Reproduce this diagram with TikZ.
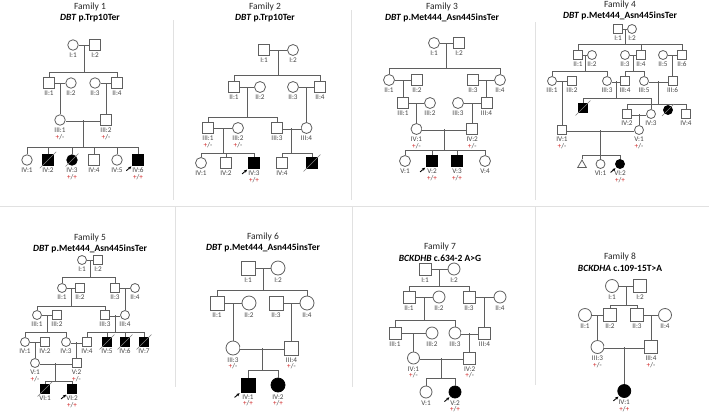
\documentclass[tikz,border=0pt]{standalone}
\usepackage{fontspec}
\setmainfont{Carlito}
\usetikzlibrary{calc,arrows.meta,shapes.geometric}
\definecolor{lc}{RGB}{95,95,95}
\definecolor{lt}{RGB}{70,70,70}
\definecolor{gr}{RGB}{210,40,40}
\definecolor{sepc}{RGB}{225,225,225}
\newcommand\gHet{\textcolor{gr}{+}/-}
\newcommand\gHom{\textcolor{gr}{+}/\textcolor{gr}{+}}
\newcommand\symsz{10pt}
\tikzset{
 ln/.style={draw=lc, line width=0.8pt},
 dbl/.style={draw=lc, line width=0.75pt, double=white, double distance=1.5pt},
 male/.style={rectangle, draw=lc, fill=white, line width=0.8pt, minimum size=\symsz, inner sep=0pt},
 fem/.style={circle, draw=lc, fill=white, line width=0.8pt, minimum size=\symsz, inner sep=0pt},
 aff/.style={fill=black, draw=black},
 lab/.style={font=\fontsize{7.2}{6.8}\selectfont, text=lt, inner sep=0.3pt, align=center},
 ttl/.style={font=\fontsize{9.5}{10}\selectfont, text=black!85},
 subt/.style={font=\bfseries\fontsize{9.5}{10}\selectfont},
 sepl/.style={draw=sepc, line width=0.7pt},
}
\newcommand\ind[4]{\node[#1, label={[lab, label distance=1.6pt]below:{#4}}] (#2) at (#3) {};}
\newcommand\mcoord[3]{\coordinate (#1) at ($(#2)!.5!(#3)$);}
\newcommand\sibs[4]{\coordinate (sy) at (0,#2); \draw[ln] (#1) -- (#1 |- sy); \draw[ln] (#3.north) -- (#3.north |- sy) -- (#4.north |- sy) -- (#4.north);}
\newcommand\kid[2]{\coordinate (sy) at (0,#2); \draw[ln] (#1.north) -- (#1.north |- sy);}
\newcommand\onechild[2]{\draw[ln] (#1) -- (#1 |- #2.north);}
\newcommand\deceased[1]{\draw[draw=gray, line width=0.6pt] ([shift={(-2.5pt,-2.5pt)}]#1.south west) -- ([shift={(2.5pt,2.5pt)}]#1.north east);}
\newcommand\proband[1]{\draw[-{Stealth[length=3.2pt,width=3pt]}, line width=0.9pt, black] ([shift={(-6pt,-5pt)}]#1.south west) -- ([shift={(-1pt,-0.8pt)}]#1.south west);}
\begin{document}
\begin{tikzpicture}[x=1pt,y=-1pt]
\fill[white] (0,0) rectangle (709,416);
\useasboundingbox (0,0) rectangle (709,416);
% separators
\draw[sepl] (0,206) -- (709,206);
\draw[sepl] (173,20) -- (173,200);
\draw[sepl] (351,10) -- (351,200);
\draw[sepl] (535,22) -- (535,200);
\draw[sepl] (175,206) -- (175,387);
\draw[sepl] (352,206) -- (352,387);
\draw[sepl] (535,206) -- (535,385);

% ---------------- Family 1
\def\symsz{10.5pt}
\node[ttl] (t1) at (90,7) {Family 1};
\node[subt] (s1) at (90,18) {\textit{DBT} p.Trp10Ter};
\ind{fem}{a11}{73,45}{I:1}
\ind{male}{a12}{95,45}{I:2}
\draw[ln] (a11) -- (a12);
\mcoord{a1m}{a11}{a12}
\ind{male}{a21}{49,83}{II:1}
\ind{fem}{a22}{71,83}{II:2}
\ind{fem}{a23}{95,83}{II:3}
\ind{male}{a24}{117,83}{II:4}
\sibs{a1m}{72}{a21}{a24}
\draw[ln] (a21) -- (a22); \draw[ln] (a23) -- (a24);
\mcoord{a2m1}{a21}{a22}\mcoord{a2m2}{a23}{a24}
\ind{fem}{a31}{60,120}{III:1\\\gHet}
\ind{male}{a32}{106,120}{III:2\\\gHet}
\onechild{a2m1}{a31}\onechild{a2m2}{a32}
\draw[dbl] (a31) -- (a32);
\mcoord{a3m}{a31}{a32}
\ind{fem}{a41}{27,160}{IV:1}
\ind{male,aff}{a42}{48,160}{IV:2}
\ind{fem,aff}{a43}{72,160}{IV:3\\\gHom}
\ind{male}{a44}{94,160}{IV:4}
\ind{fem}{a45}{117,160}{IV:5}
\ind{male,aff}{a46}{138,160}{IV:6\\\gHom}
\sibs{a3m}{147}{a41}{a46}
\kid{a42}{147}\kid{a43}{147}\kid{a44}{147}\kid{a45}{147}
\deceased{a42}\deceased{a43}\proband{a46}

% ---------------- Family 2
\def\symsz{11pt}
\node[ttl] (t2) at (265,7) {Family 2};
\node[subt] (s2) at (265,18) {\textit{DBT} p.Trp10Ter};
\ind{male}{b11}{264,50}{I:1}
\ind{fem}{b12}{293,50}{I:2}
\draw[ln] (b11) -- (b12);
\mcoord{b1m}{b11}{b12}
\ind{male}{b21}{234,87}{II:1}
\ind{fem}{b22}{260,87}{II:2}
\ind{fem}{b23}{293,87}{II:3}
\ind{male}{b24}{320,87}{II:4}
\sibs{b1m}{75}{b21}{b24}
\draw[ln] (b21) -- (b22); \draw[ln] (b23) -- (b24);
\mcoord{b2m1}{b21}{b22}\mcoord{b2m2}{b23}{b24}
\ind{male}{b31}{208,128}{III:1\\\gHet}
\ind{fem}{b32}{238,128}{III:2\\\gHet}
\ind{male}{b33}{277,128}{III:3}
\ind{fem}{b34}{306.5,128}{III:4}
\sibs{b2m1}{117}{b31}{b33}
\onechild{b2m2}{b34}
\draw[ln] (b31) -- (b32); \draw[dbl] (b33) -- (b34);
\mcoord{b3m1}{b31}{b32}\mcoord{b3m2}{b33}{b34}
\ind{fem}{b41}{201,163}{IV:1}
\ind{male}{b42}{226,163}{IV:2}
\ind{male,aff}{b43}{254,163}{IV:3\\\gHom}
\ind{male}{b44}{282,163}{IV:4}
\node[male,aff] (b45) at (312,163) {};
\sibs{b3m1}{153}{b41}{b43}\kid{b42}{153}
\sibs{b3m2}{153}{b44}{b45}
\deceased{b45}\proband{b43}

% ---------------- Family 3
\def\symsz{11pt}
\node[ttl] (t3) at (442,7) {Family 3};
\node[subt] (s3) at (442,18) {\textit{DBT} p.Met444\_Asn445insTer};
\ind{fem}{c11}{434,43}{I:1}
\ind{male}{c12}{459,43}{I:2}
\draw[ln] (c11) -- (c12);
\mcoord{c1m}{c11}{c12}
\ind{fem}{c21}{389,80}{II:1}
\ind{male}{c22}{417,80}{II:2}
\ind{male}{c23}{473,80}{II:3}
\ind{fem}{c24}{500,80}{II:4}
\sibs{c1m}{68}{c21}{c24}
\draw[ln] (c21) -- (c22); \draw[ln] (c23) -- (c24);
\mcoord{c2m1}{c21}{c22}\mcoord{c2m2}{c23}{c24}
\ind{male}{c31}{403,103}{III:1}
\ind{fem}{c32}{430,103}{III:2}
\ind{fem}{c33}{458,103}{III:3}
\ind{male}{c34}{486.5,103}{III:4}
\onechild{c2m1}{c31}\onechild{c2m2}{c34}
\draw[ln] (c31) -- (c32); \draw[ln] (c33) -- (c34);
\mcoord{c3m1}{c31}{c32}\mcoord{c3m2}{c33}{c34}
\ind{fem}{c41}{416.5,129}{IV:1\\\gHet}
\ind{male}{c42}{472.25,129}{IV:2\\\gHet}
\onechild{c3m1}{c41}\onechild{c3m2}{c42}
\draw[dbl] (c41) -- (c42);
\mcoord{c4m}{c41}{c42}
\ind{fem}{c51}{405,161}{V:1}
\ind{male,aff}{c52}{432,161}{V:2\\\gHom}
\ind{male,aff}{c53}{457,161}{V:3\\\gHom}
\ind{fem}{c54}{485,161}{V:4}
\sibs{c4m}{150}{c51}{c54}\kid{c52}{150}\kid{c53}{150}
\proband{c52}

% ---------------- Family 4
\def\symsz{9pt}
\node[ttl] (t4) at (620,5) {Family 4};
\node[subt] (s4) at (620,15.5) {\textit{DBT} p.Met444\_Asn445insTer};
\ind{male}{d11}{618,29}{I:1}
\ind{fem}{d12}{632,29}{I:2}
\draw[ln] (d11) -- (d12);
\mcoord{d1m}{d11}{d12}
\ind{male}{d21}{578,55}{II:1}
\ind{fem}{d22}{592,55}{II:2}
\ind{fem}{d23}{625,55}{II:3}
\ind{male}{d24}{641,55}{II:4}
\ind{fem}{d25}{663,55}{II:5}
\ind{male}{d26}{682,55}{II:6}
\sibs{d1m}{44}{d21}{d26}\kid{d24}{44}
\draw[ln] (d21) -- (d22); \draw[ln] (d23) -- (d24); \draw[ln] (d25) -- (d26);
\mcoord{d2m1}{d21}{d22}\mcoord{d2m2}{d23}{d24}\mcoord{d2m3}{d25}{d26}
\ind{fem}{d31}{552,81}{III:1}
\ind{male}{d32}{572,81}{III:2}
\ind{fem}{d33}{607,81}{III:3}
\ind{male}{d34}{625,81}{III:4}
\ind{fem}{d35}{644,81}{III:5}
\ind{male}{d36}{672.5,81}{III:6}
\sibs{d2m1}{71}{d31}{d33}
\sibs{d2m2}{71}{d34}{d35}
\onechild{d2m3}{d36}
\draw[ln] (d31) -- (d32); \draw[dbl] (d33) -- (d34); \draw[dbl] (d35) -- (d36);
\mcoord{d3m1}{d31}{d32}\mcoord{d3m2}{d33}{d34}\mcoord{d3m3}{d35}{d36}
\ind{male}{d41}{562,130}{IV:1\\\gHet}
\onechild{d3m1}{d41}
\node[male,aff] (dx1) at (583,108) {};
\ind{fem}{d43}{651,114}{IV:3}
\sibs{d3m2}{98}{dx1}{d43}
\ind{male}{d42}{627,114}{IV:2}
\node[fem,aff] (dx2) at (668,110) {};
\ind{male}{d44}{686,114}{IV:4}
\sibs{d3m3}{104}{d42}{d44}\kid{dx2}{104}
\deceased{dx1}\deceased{dx2}
\draw[dbl] (d42) -- (d43);
\mcoord{d4m}{d42}{d43}
\ind{fem}{d51}{639,130}{V:1\\\gHet}
\onechild{d4m}{d51}
\draw[dbl] (d41) -- (d51);
\mcoord{d5m}{d41}{d51}
\node[regular polygon, regular polygon sides=3, draw=lc, fill=white, line width=0.8pt, minimum size=10pt, inner sep=0pt] (d6t) at (582,165) {};
\ind{fem}{d61}{600.5,164}{VI:1}
\ind{fem,aff}{d62}{620,164}{VI:2\\\gHom}
\sibs{d5m}{155}{d6t}{d62}\kid{d61}{155}
\proband{d62}

% ---------------- Family 5
\def\symsz{9pt}
\node[ttl] (t5) at (90,238) {Family 5};
\node[subt] (s5) at (90,249) {\textit{DBT} p.Met444\_Asn445insTer};
\ind{fem}{e11}{82,260}{I:1}
\ind{male}{e12}{98,260}{I:2}
\draw[ln] (e11) -- (e12);
\mcoord{e1m}{e11}{e12}
\ind{fem}{e21}{62,288}{II:1}
\ind{male}{e22}{80,288}{II:2}
\ind{male}{e23}{115,288}{II:3}
\ind{fem}{e24}{135,288}{II:4}
\sibs{e1m}{277}{e21}{e23}
\draw[ln] (e21) -- (e22); \draw[ln] (e23) -- (e24);
\mcoord{e2m1}{e21}{e22}\mcoord{e2m2}{e23}{e24}
\ind{fem}{e31}{37,315}{III:1}
\ind{male}{e32}{57,315}{III:2}
\ind{male}{e33}{105,315}{III:3}
\ind{fem}{e34}{125,315}{III:4}
\sibs{e2m1}{306}{e31}{e33}
\onechild{e2m2}{e34}
\draw[ln] (e31) -- (e32); \draw[dbl] (e33) -- (e34);
\mcoord{e3m1}{e31}{e32}\mcoord{e3m2}{e33}{e34}
\ind{fem}{e41}{25,342}{IV:1}
\ind{male}{e42}{45,342}{IV:2}
\ind{fem}{e43}{66,342}{IV:3}
\ind{male}{e44}{87,342}{IV:4}
\ind{male,aff}{e45}{107,342}{IV:5}
\ind{male,aff}{e46}{125,342}{IV:6}
\ind{male,aff}{e47}{144,342}{IV:7}
\sibs{e3m1}{332}{e41}{e43}
\sibs{e3m2}{332}{e44}{e47}\kid{e45}{332}\kid{e46}{332}
\deceased{e45}\deceased{e46}\deceased{e47}
\draw[ln] (e41) -- (e42); \draw[dbl] (e43) -- (e44);
\mcoord{e4m1}{e41}{e42}\mcoord{e4m2}{e43}{e44}
\ind{fem}{e51}{35,363}{V:1\\\gHet}
\ind{male}{e52}{76.5,363}{V:2\\\gHet}
\onechild{e4m1}{e51}\onechild{e4m2}{e52}
\draw[dbl] (e51) -- (e52);
\mcoord{e5m}{e51}{e52}
\ind{male,aff}{e61}{45,389}{VI:1}
\ind{male,aff}{e62}{72,389}{VI:2\\\gHom}
\sibs{e5m}{381}{e61}{e62}
\deceased{e61}\proband{e62}

% ---------------- Family 6
\def\symsz{14pt}
\node[ttl] (t6) at (263,237) {Family 6};
\node[subt] (s6) at (263,248) {\textit{DBT} p.Met444\_Asn445insTer};
\ind{male}{g11}{248,268}{I:1}
\ind{fem}{g12}{278,268}{I:2}
\draw[ln] (g11) -- (g12);
\mcoord{g1m}{g11}{g12}
\ind{male}{g21}{217,303}{II:1}
\ind{fem}{g22}{249,303}{II:2}
\ind{male}{g23}{276,303}{II:3}
\ind{fem}{g24}{307,303}{II:4}
\sibs{g1m}{290}{g21}{g24}
\draw[ln] (g21) -- (g22); \draw[ln] (g23) -- (g24);
\mcoord{g2m1}{g21}{g22}\mcoord{g2m2}{g23}{g24}
\ind{fem}{g31}{233,348}{III:3\\\gHet}
\ind{male}{g32}{291.5,348}{III:4\\\gHet}
\onechild{g2m1}{g31}\onechild{g2m2}{g32}
\draw[dbl] (g31) -- (g32);
\mcoord{g3m}{g31}{g32}
\ind{male,aff}{g41}{248,385}{IV:1\\\gHom}
\ind{fem,aff}{g42}{278,385}{IV:2\\\gHom}
\sibs{g3m}{370}{g41}{g42}
\proband{g41}

% ---------------- Family 7
\def\symsz{12pt}
\node[ttl] (t7) at (440,247) {Family 7};
\node[subt] (s7) at (440,258) {\textit{BCKDHB} c.634-2 A>G};
\ind{male}{h11}{425,269}{I:1}
\ind{fem}{h12}{454,269}{I:2}
\draw[ln] (h11) -- (h12);
\mcoord{h1m}{h11}{h12}
\ind{male}{h21}{409,297}{II:1}
\ind{fem}{h22}{439,297}{II:2}
\ind{male}{h23}{469,297}{II:3}
\ind{fem}{h24}{500,297}{II:4}
\sibs{h1m}{286}{h21}{h23}
\draw[ln] (h21) -- (h22); \draw[ln] (h23) -- (h24);
\mcoord{h2m1}{h21}{h22}\mcoord{h2m2}{h23}{h24}
\ind{male}{h31}{395,333}{III:1}
\ind{fem}{h32}{432,333}{III:2}
\ind{fem}{h33}{455,333}{III:3}
\ind{male}{h34}{484.5,333}{III:4}
\sibs{h2m1}{320}{h31}{h33}
\onechild{h2m2}{h34}
\draw[ln] (h31) -- (h32); \draw[dbl] (h33) -- (h34);
\mcoord{h3m1}{h31}{h32}\mcoord{h3m2}{h33}{h34}
\ind{fem}{h41}{413.5,358}{IV:1\\\gHet}
\ind{male}{h42}{469.75,358}{IV:2\\\gHet}
\onechild{h3m1}{h41}\onechild{h3m2}{h42}
\draw[dbl] (h41) -- (h42);
\mcoord{h4m}{h41}{h42}
\ind{fem}{h51}{426,392}{V:1}
\ind{fem,aff}{h52}{455,392}{V:2\\\gHom}
\sibs{h4m}{378}{h51}{h52}
\proband{h52}

% ---------------- Family 8
\def\symsz{13pt}
\node[ttl] (t8) at (620,257) {Family 8};
\node[subt] (s8) at (620,268) {\textit{BCKDHA} c.109-15T>A};
\ind{fem}{k11}{612,286}{I:1}
\ind{male}{k12}{640,286}{I:2}
\draw[ln] (k11) -- (k12);
\mcoord{k1m}{k11}{k12}
\ind{fem}{k21}{585,315}{II:1}
\ind{male}{k22}{610,315}{II:2}
\ind{male}{k23}{637,315}{II:3}
\ind{fem}{k24}{665,315}{II:4}
\sibs{k1m}{305}{k22}{k23}
\draw[ln] (k21) -- (k22); \draw[ln] (k23) -- (k24);
\mcoord{k2m1}{k21}{k22}\mcoord{k2m2}{k23}{k24}
\ind{fem}{k31}{597.5,347}{III:3\\\gHet}
\ind{male}{k32}{651,347}{III:4\\\gHet}
\onechild{k2m1}{k31}\onechild{k2m2}{k32}
\draw[dbl] (k31) -- (k32);
\mcoord{k3m}{k31}{k32}
\ind{fem,aff}{k41}{624.25,391}{IV:1\\\gHom}
\onechild{k3m}{k41}
\proband{k41}
\end{tikzpicture}
\end{document}
